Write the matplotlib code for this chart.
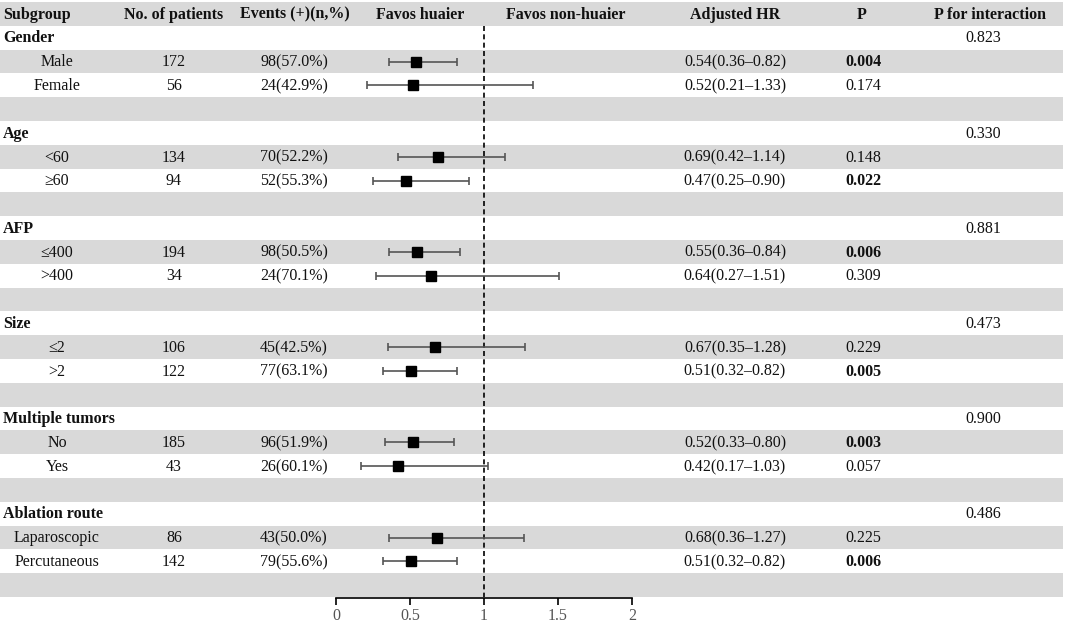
import matplotlib
matplotlib.use("Agg")
import matplotlib.pyplot as plt
from matplotlib.patches import Rectangle

plt.rcParams['font.family'] = ['Liberation Serif', 'DejaVu Serif']

# ---------------- data ----------------
headers = ['Subgroup', 'No. of patients', 'Events (+)(n,%)', 'Favos huaier',
           'Favos non-huaier', 'Adjusted HR', 'P', 'P for interaction']
groups = ['Gender', 'Age', 'AFP', 'Size', 'Multiple tumors', 'Ablation route']
p_interaction = ['0.823', '0.330', '0.881', '0.473', '0.900', '0.486']
sub_labels = ['Male', 'Female', '<60', '≥60', '≤400', '>400', '≤2', '>2',
              'No', 'Yes', 'Laparoscopic', 'Percutaneous']
n_patients = [172, 56, 134, 94, 194, 34, 106, 122, 185, 43, 86, 142]
events = ['98(57.0%)', '24(42.9%)', '70(52.2%)', '52(55.3%)', '98(50.5%)',
          '24(70.1%)', '45(42.5%)', '77(63.1%)', '96(51.9%)', '26(60.1%)',
          '43(50.0%)', '79(55.6%)']
hr = [0.54, 0.52, 0.69, 0.47, 0.55, 0.64, 0.67, 0.51, 0.52, 0.42, 0.68, 0.51]
hr_lo = [0.36, 0.21, 0.42, 0.25, 0.36, 0.27, 0.35, 0.32, 0.33, 0.17, 0.36, 0.32]
hr_hi = [0.82, 1.33, 1.14, 0.90, 0.84, 1.51, 1.28, 0.82, 0.80, 1.03, 1.27, 0.82]
p_values = ['0.004', '0.174', '0.148', '0.022', '0.006', '0.309', '0.229',
            '0.005', '0.003', '0.057', '0.225', '0.006']
x_ticks = [0, 0.5, 1, 1.5, 2]
x_ticklabels = ['0', '0.5', '1', '1.5', '2']

# ---------------- layout ----------------
W, H = 1065, 625
top, row_h = 2.0, 23.8
n_rows = 1 + 4 * len(groups)
grid_bottom = top + n_rows * row_h
fs = 11.5
grey = '#d9d9d9'
txt = '#111111'

fig = plt.figure(figsize=(W / 100, H / 100), dpi=100)
ax0 = fig.add_axes([0, 0, 1, 1])
ax0.set_xlim(0, W)
ax0.set_ylim(H, 0)
ax0.axis('off')

def row_y(i):
    # text baseline inside row i
    return top + (i + 0.5) * row_h + 4.8

def put(x, i, s, ha='center', bold=False):
    ax0.text(x, row_y(i), s, ha=ha, va='baseline', fontsize=fs,
             fontweight='bold' if bold else 'normal', color=txt)

for i in range(n_rows):
    if i % 2 == 0:
        ax0.add_patch(Rectangle((0, top + i * row_h), W - 2, row_h,
                                facecolor=grey, edgecolor='none', zorder=0))

# header
col_x = [3, 174, 295, 420, 566, 735, 862, 990]
for j, h in enumerate(headers):
    put(col_x[j], 0, h, ha='left' if j == 0 else 'center', bold=True)

sub_x, n_x, ev_x, hr_x, p_x, pi_x = 57, 174, 294, 735, 863, 983
k = 0
for g, name in enumerate(groups):
    r0 = 1 + 4 * g
    put(3, r0, name, ha='left', bold=True)
    put(pi_x, r0, p_interaction[g])
    for s in range(2):
        r = r0 + 1 + s
        put(sub_x, r, sub_labels[k])
        put(n_x, r, str(n_patients[k]))
        put(ev_x, r, events[k])
        put(hr_x, r, f'{hr[k]:.2f}({hr_lo[k]:.2f}–{hr_hi[k]:.2f})')
        put(p_x, r, p_values[k], bold=float(p_values[k]) < 0.05)
        k += 1

# forest axes
x0_px, x1_px = 336, 632
axf = fig.add_axes([x0_px / W, (H - grid_bottom) / H, (x1_px - x0_px) / W,
                    (grid_bottom - top) / H])
axf.patch.set_alpha(0)
axf.set_xlim(0, 2)
axf.set_ylim(n_rows, 0)
for sp in ['top', 'left', 'right']:
    axf.spines[sp].set_visible(False)
axf.spines['bottom'].set_linewidth(1.2)
axf.spines['bottom'].set_position(('outward', 1))
axf.set_yticks([])
axf.set_xticks(x_ticks)
axf.set_xticklabels(x_ticklabels, fontsize=fs, color='#555555')
axf.tick_params(axis='x', direction='out', length=5, width=1.2, pad=2)

axf.plot([1, 1], [1, n_rows], color='black', lw=1.2, ls=(0, (3, 2)), zorder=2)

ys = []
for g in range(len(groups)):
    ys += [1 + 4 * g + 1 + 0.5, 1 + 4 * g + 2 + 0.5]
err_lo = [h - l for h, l in zip(hr, hr_lo)]
err_hi = [u - h for h, u in zip(hr, hr_hi)]
axf.errorbar(hr, ys, xerr=[err_lo, err_hi], fmt='none', ecolor='#555555',
             elinewidth=1.2, capsize=3, capthick=1.2, zorder=3)
axf.plot(hr, ys, ls='none', marker='s', markersize=7.5, color='black', zorder=4)

fig.savefig('out.png', dpi=100)
